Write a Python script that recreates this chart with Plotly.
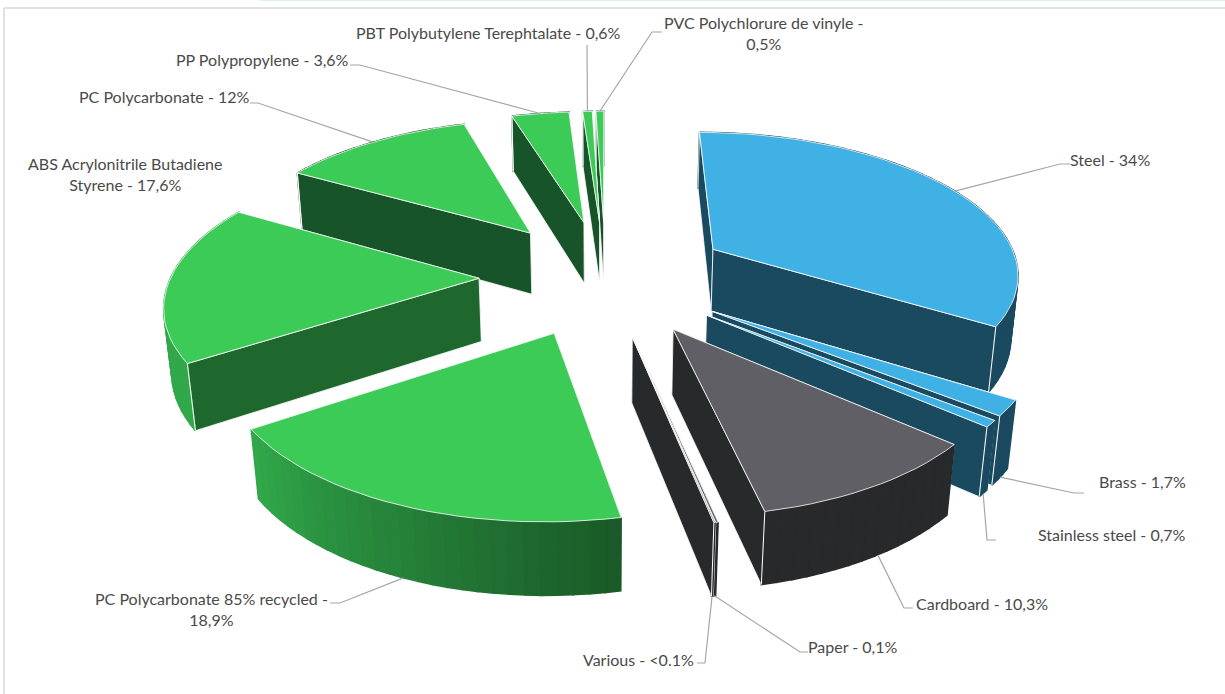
import math
import plotly.graph_objects as go

# ---- data ----
categories = ["Steel", "Brass", "Stainless steel", "Cardboard", "Paper", "Various",
              "PC Polycarbonate 85% recycled", "ABS Acrylonitrile Butadiene Styrene",
              "PC Polycarbonate", "PP Polypropylene", "PBT Polybutylene Terephtalate",
              "PVC Polychlorure de vinyle"]
values = [34, 1.7, 0.7, 10.3, 0.1, 0.05, 18.9, 17.6, 12, 3.6, 0.6, 0.5]
label_texts = ["Steel - 34%", "Brass - 1,7%", "Stainless steel - 0,7%", "Cardboard - 10,3%",
               "Paper - 0,1%", "Various - &lt;0.1%", "PC Polycarbonate 85% recycled -<br>18,9%",
               "ABS Acrylonitrile Butadiene<br>Styrene - 17,6%", "PC Polycarbonate - 12%",
               "PP Polypropylene - 3,6%", "PBT Polybutylene Terephtalate - 0,6%",
               "PVC Polychlorure de vinyle -<br>0,5%"]
top_colors = ["#3FB1E5"] * 3 + ["#5F5F65"] * 3 + ["#3DCB58"] * 6
cut_colors = ["#1A4A60"] * 3 + ["#28292B"] * 3 + ["#1A5A28", "#1E682E", "#18542A", "#18542A", "#18542A", "#18542A"]

# label centre, leader knee, leader end beside label (page pixels); None = no leader
label_pos = [(1110, 159), (1142, 481), (1112, 534), (982, 603), (853, 646), (638, 659),
             (211, 609), (125, 174), (164, 96), (262, 59), (488, 32), (764, 33)]
knees = [(1060, 164), (1074, 493), (987, 540), (904, 608), (800, 652), (705, 663),
         (340, 603), None, (258, 103), (360, 65), (587, 45), (652, 32)]
leader_ends = [(1070, 164), (1084, 493), (996, 540), (913, 608), (808, 652), (697, 663),
               (330, 603), None, (250, 103), (350, 65), (587, 45), (662, 32)]
leader_theta_frac = [0.51, 0.5, 0.5, 0.45, 0.5, 0.5, 0.5, None, 0.5, 0.5, 0.5, 0.5]

# ---- projection parameters ----
CX, CY, S, E, H, D = 605.5, 276.5, 308, 0.41, 0.235, 6.0
SIN, COS = 0.46, 0.888


def proj(x, y, z):
    p = D / (D + y * COS - z * SIN)
    return CX + S * x * p, CY - S * (y * SIN + z * COS) * p


def mix(a, b, t):
    ca = [int(a[i:i + 2], 16) for i in (1, 3, 5)]
    cb = [int(b[i:i + 2], 16) for i in (1, 3, 5)]
    return "#%02x%02x%02x" % tuple(round(u + (v - u) * t) for u, v in zip(ca, cb))


fig = go.Figure()


def poly(points, fill, line="white", width=0.8):
    xs = [p[0] for p in points] + [points[0][0]]
    ys = [p[1] for p in points] + [points[0][1]]
    fig.add_trace(go.Scatter(x=xs, y=ys, mode="lines", fill="toself", fillcolor=fill,
                             line=dict(color=line, width=width), hoverinfo="skip", showlegend=False))


total = sum(values)
slices = []
acc = 0
for i, v in enumerate(values):
    a0, a1 = acc / total * 2 * math.pi, (acc + v) / total * 2 * math.pi
    acc += v
    mid = (a0 + a1) / 2
    slices.append((i, a0, a1, E * math.sin(mid), E * math.cos(mid)))


def rim(s, th, z):
    return proj(s[3] + math.sin(th), s[4] + math.cos(th), z)


def wall_color(i, th):
    deg = math.degrees(th)
    base = cut_colors[i]
    if 6 <= i <= 7:
        t = max(0, min(1, (deg - 170) / 65))
        return mix("#1A5A28", "#31A84A", t)
    return base


for s in sorted(slices, key=lambda q: -(q[4] + 0.5 * math.cos((q[1] + q[2]) / 2))):
    i, a0, a1, ox, oy = s
    ap_t, ap_b = proj(ox, oy, 0), proj(ox, oy, -H)
    faces = []
    for th in (a0, a1):
        depth = oy + 0.5 * math.cos(th)
        faces.append((depth, "cut", th))
    n = max(1, math.ceil(math.degrees(a1 - a0) / 2.5))
    ths = [a0 + (a1 - a0) * k / n for k in range(n + 1)]
    for k in range(n):
        tm = (ths[k] + ths[k + 1]) / 2
        faces.append((oy + math.cos(tm), "wall", k))
    for depth, kind, arg in sorted(faces, key=lambda f: -f[0]):
        if kind == "cut":
            poly([ap_t, rim(s, arg, 0), rim(s, arg, -H), ap_b], cut_colors[i])
        else:
            c = wall_color(i, (ths[arg] + ths[arg + 1]) / 2)
            poly([rim(s, ths[arg], 0), rim(s, ths[arg + 1], 0), rim(s, ths[arg + 1], -H), rim(s, ths[arg], -H)],
                 c, line=c, width=1.5)
    # white vertical edge where a visible cut face meets the outer wall
    for th, visible in ((a0, math.sin(a0) < 0), (a1, math.sin(a1) > 0)):
        if visible:
            e0, e1 = rim(s, th, 0), rim(s, th, -H)
            fig.add_trace(go.Scatter(x=[e0[0], e1[0]], y=[e0[1], e1[1]], mode="lines",
                                     line=dict(color="white", width=1), hoverinfo="skip", showlegend=False))
    poly([ap_t] + [rim(s, t, 0) for t in ths], top_colors[i])

# leaders
for i, s in enumerate(slices):
    if knees[i] is None:
        continue
    th = s[1] + (s[2] - s[1]) * leader_theta_frac[i]
    z = -H if i in (1, 2, 3, 4, 5, 6) else 0
    a = rim(s, th, z)
    fig.add_trace(go.Scatter(x=[a[0], knees[i][0], leader_ends[i][0]], y=[a[1], knees[i][1], leader_ends[i][1]],
                             mode="lines", line=dict(color="#A6A6A6", width=1.2), hoverinfo="skip", showlegend=False))

annotations = [dict(x=p[0], y=p[1], xref="x", yref="y", text=t, showarrow=False, align="center",
                    font=dict(family="Lato, Noto Sans, sans-serif", size=16, color="#4A4A4A"))
               for p, t in zip(label_pos, label_texts)]

frame = [dict(type="line", xref="x", yref="y", x0=4, x1=1225, y0=8, y1=8, line=dict(color="#E2E2E2", width=2)),
         dict(type="line", xref="x", yref="y", x0=4, x1=4, y0=8, y1=694, line=dict(color="#E2E2E2", width=2)),
         dict(type="line", xref="x", yref="y", x0=260, x1=1225, y0=0, y1=0, line=dict(color="#DDF5E0", width=2))]

fig.update_layout(width=1225, height=694, autosize=False, margin=dict(l=0, r=0, t=0, b=0),
                  paper_bgcolor="white", plot_bgcolor="white", showlegend=False,
                  annotations=annotations, shapes=frame,
                  xaxis=dict(range=[0, 1225], visible=False, fixedrange=True),
                  yaxis=dict(range=[694, 0], visible=False, fixedrange=True))
fig.write_html("out.html", config={"displayModeBar": False},
               post_script="document.body.style.margin='0';document.body.style.overflow='hidden';")
